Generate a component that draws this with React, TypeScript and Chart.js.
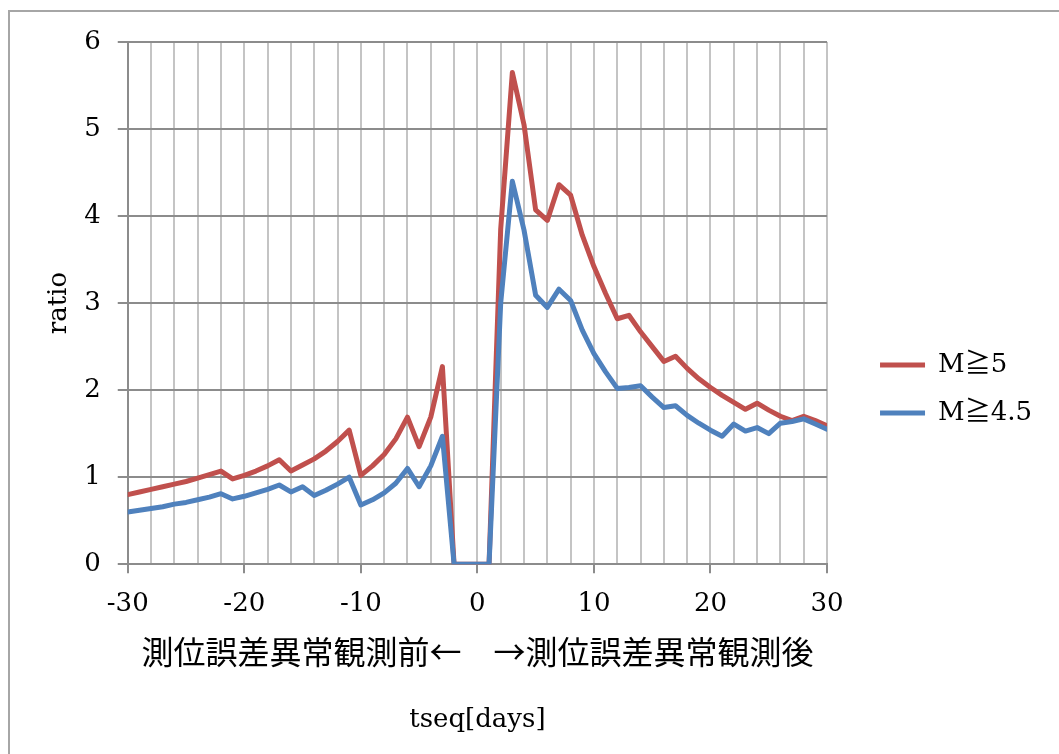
import React, { useEffect, useRef } from 'react';
import { Chart, registerables } from 'chart.js';

Chart.register(...registerables);

const days = [
  -30, -29, -28, -27, -26, -25, -24, -23, -22, -21,
  -20, -19, -18, -17, -16, -15, -14, -13, -12, -11,
  -10, -9, -8, -7, -6, -5, -4, -3, -2, -1,
  0, 1, 2, 3, 4, 5, 6, 7, 8, 9,
  10, 11, 12, 13, 14, 15, 16, 17, 18, 19,
  20, 21, 22, 23, 24, 25, 26, 27, 28, 29, 30,
];

const ratioM5 = [
  0.80, 0.83, 0.86, 0.89, 0.92, 0.95, 0.99, 1.03, 1.07, 0.98,
  1.02, 1.07, 1.13, 1.20, 1.07, 1.14, 1.21, 1.30, 1.41, 1.54,
  1.02, 1.13, 1.26, 1.44, 1.69, 1.35, 1.69, 2.27, 0, 0,
  0, 0, 3.85, 5.65, 5.05, 4.07, 3.95, 4.36, 4.24, 3.78,
  3.42, 3.11, 2.82, 2.86, 2.67, 2.50, 2.33, 2.39, 2.25, 2.13,
  2.03, 1.94, 1.86, 1.78, 1.85, 1.77, 1.70, 1.65, 1.70, 1.65, 1.59,
];

const ratioM45 = [
  0.60, 0.62, 0.64, 0.66, 0.69, 0.71, 0.74, 0.77, 0.81, 0.75,
  0.78, 0.82, 0.86, 0.91, 0.83, 0.89, 0.79, 0.85, 0.92, 1.00,
  0.68, 0.74, 0.82, 0.93, 1.10, 0.89, 1.13, 1.47, 0, 0,
  0, 0, 3.00, 4.40, 3.84, 3.09, 2.95, 3.16, 3.03, 2.69,
  2.42, 2.21, 2.02, 2.03, 2.05, 1.92, 1.80, 1.82, 1.71, 1.62,
  1.54, 1.47, 1.61, 1.53, 1.57, 1.50, 1.62, 1.64, 1.67, 1.61, 1.55,
];

const seriesLabels = ['M≧5', 'M≧4.5'];
const seriesColors = ['#C0504D', '#4F81BD'];
const xTitle = '測位誤差異常観測前←　→測位誤差異常観測後';
const xSubTitle = 'tseq[days]';
const yTitle = 'ratio';

const SERIF = "'DejaVu Serif', 'Noto Sans CJK JP', serif";
const CJK = "'Noto Sans CJK JP', 'DejaVu Serif', sans-serif";

export default function App() {
  const ref = useRef<HTMLCanvasElement>(null);

  useEffect(() => {
    const font = { family: SERIF, size: 26 };
    const chart = new Chart(ref.current as HTMLCanvasElement, {
      type: 'line',
      data: {
        datasets: [
          {
            label: seriesLabels[0],
            data: days.map((d, i) => ({ x: d, y: ratioM5[i] })),
            borderColor: seriesColors[0],
            backgroundColor: seriesColors[0],
            borderWidth: 5,
            pointRadius: 0,
            borderJoinStyle: 'round',
            borderCapStyle: 'round',
            tension: 0,
            order: 1,
          },
          {
            label: seriesLabels[1],
            data: days.map((d, i) => ({ x: d, y: ratioM45[i] })),
            borderColor: seriesColors[1],
            backgroundColor: seriesColors[1],
            borderWidth: 5,
            pointRadius: 0,
            borderJoinStyle: 'round',
            borderCapStyle: 'round',
            tension: 0,
            order: 0,
          },
        ],
      },
      options: {
        responsive: false,
        animation: false,
        layout: { padding: { left: 44, top: 42, bottom: 18, right: 17 } },
        plugins: {
          legend: {
            position: 'right',
            maxWidth: 300,
            labels: {
              usePointStyle: true,
              pointStyle: 'line',
              pointStyleWidth: 45,
              padding: 22,
              font,
              color: '#000',
              sort: (a: any, b: any) => a.datasetIndex - b.datasetIndex,
            },
          },
          title: {
            display: true,
            position: 'bottom',
            fullSize: false,
            text: xSubTitle,
            font: { family: SERIF, size: 26, weight: 'normal' },
            color: '#000',
            padding: { top: 34, bottom: 0 },
          },
          tooltip: { enabled: false },
        },
        scales: {
          x: {
            type: 'linear',
            min: -30,
            max: 30,
            ticks: {
              stepSize: 2,
              autoSkip: false,
              maxRotation: 0,
              callback: (v: any) => (Number(v) % 10 === 0 ? String(v) : ''),
              font,
              color: '#000',
              padding: 15,
            },
            grid: {
              color: '#C4C4C4',
              lineWidth: 2,
              tickColor: (ctx: any) =>
                ctx.tick && ctx.tick.value % 10 === 0 ? '#8C8C8C' : 'rgba(0,0,0,0)',
              tickLength: 9,
            },
            border: { color: '#8C8C8C', width: 2 },
            title: {
              display: true,
              text: xTitle,
              font: { family: CJK, size: 32 },
              color: '#000',
              padding: { top: -2, bottom: 0 },
            },
          },
          y: {
            min: 0,
            max: 6,
            ticks: { stepSize: 1, font, color: '#000', padding: 17 },
            grid: { color: '#8C8C8C', lineWidth: 2, tickColor: '#8C8C8C', tickLength: 10 },
            border: { color: '#8C8C8C', width: 2 },
            title: {
              display: true,
              text: yTitle,
              font,
              color: '#000',
              padding: { top: 0, bottom: -8 },
            },
          },
          yR: {
            position: 'right',
            display: true,
            ticks: { display: false },
            grid: { display: false, drawTicks: false },
            border: { display: false },
            afterFit: (s: any) => {
              s.width = 31;
            },
          },
        },
      } as any,
    });
    return () => chart.destroy();
  }, []);

  return (
    <div style={{ position: 'absolute', left: 0, top: 0, width: 1059, height: 754, overflow: 'hidden', background: '#fff' }}>
      <div
        style={{
          position: 'absolute',
          left: 8,
          top: 10,
          width: 1100,
          height: 800,
          border: '2px solid #A6A6A6',
          boxSizing: 'border-box',
        }}
      />
      <canvas ref={ref} width={1059} height={754} style={{ position: 'absolute', left: 0, top: 0 }} />
    </div>
  );
}
